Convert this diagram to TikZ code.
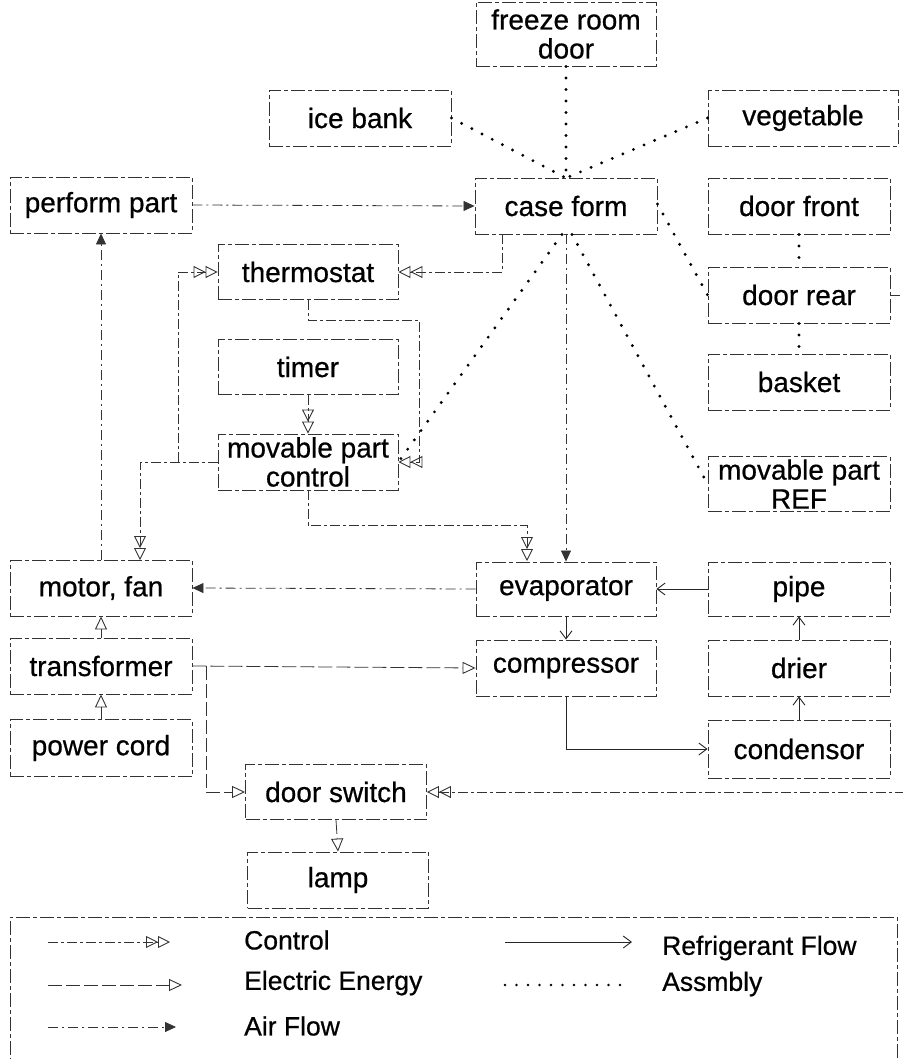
\documentclass[tikz,border=0pt]{standalone}
\usepackage{fontspec}
\setmainfont{Liberation Sans}[FakeBold=0.6]
\usetikzlibrary{arrows.meta}
\begin{document}
\begin{tikzpicture}[x=1pt,y=-1pt,
  box/.style={draw=black!80, line width=0.9pt, dash pattern=on 14pt off 3pt on 4pt off 3pt,
    minimum width=182pt, minimum height=56pt, inner sep=0pt, align=center,
    font=\fontsize{28}{29}\selectfont},
  lgtext/.style={anchor=west, inner sep=0pt, font=\fontsize{26.5}{28}\selectfont},
  ctrl/.style={draw=black!80, line width=0.8pt, dash pattern=on 10pt off 3pt on 3pt off 3pt,
    -{Triangle[open,length=12pt,width=12pt,line width=0.9pt]Triangle[open,length=12pt,width=12pt,line width=0.9pt]}},
  elec/.style={draw=black!80, line width=0.8pt, dash pattern=on 14pt off 4pt,
    -{Triangle[open,length=13pt,width=12pt,line width=0.9pt]}},
  air/.style={draw=black!80, line width=0.8pt, dash pattern=on 10pt off 4pt on 2pt off 4pt,
    -{Triangle[length=11pt,width=10pt]}},
  refr/.style={draw=black!85, line width=0.8pt,
    -{Straight Barb[length=8pt,width=12pt,line width=0.9pt]}},
  asm/.style={draw=black, line width=3.2pt, dash pattern=on 0pt off 11.5pt, line cap=round}
]
\useasboundingbox (0,0) rectangle (902,1059);

% nodes
\node[box, minimum width=180pt, minimum height=64pt] (freeze) at (566,34) {freeze room\\door};
\node[box] (ice) at (360,118) {ice bank};
\node[box, minimum width=190pt] (veg) at (803,118) {vegetable};
\node[box] (perform) at (101,205) {perform part};
\node[box] (case) at (566,206) {case form};
\node[box] (dfront) at (799,206) {door front};
\node[box, minimum width=180pt, minimum height=55pt] (thermo) at (308,272) {thermostat};
\node[box] (drear) at (799,295) {door rear};
\node[box, minimum width=180pt, minimum height=55pt] (timer) at (308,367) {timer};
\node[box] (basket) at (799,382) {basket};
\node[box, minimum width=180pt] (mpc) at (308,462) {movable part\\control};
\node[box, minimum height=55pt] (mpref) at (799,484) {movable part\\REF};
\node[box] (motor) at (101,588) {motor, fan};
\node[box, minimum width=180pt, minimum height=54pt] (evap) at (566,589) {evaporator};
\node[box, minimum height=54pt] (pipe) at (799,589) {pipe};
\node[box] (trans) at (101,666) {transformer};
\node[box, minimum width=180pt] (comp) at (566,668) {compressor};
\node[box] (drier) at (799,668) {drier};
\node[box, minimum height=57pt] (cord) at (101,748) {power cord};
\node[box, minimum height=58pt] (cond) at (799,749) {condensor};
\node[box, minimum width=181pt, minimum height=55pt] (dswitch) at (336,792) {door switch};
\node[box, minimum width=181pt] (lamp) at (338,880) {lamp};
\node[box, minimum width=887pt, minimum height=142pt] (legend) at (453.5,988) {};

% assembly (dotted)
\coordinate (caseTop) at (566,178);
\draw[asm] (freeze.south) -- (case.north);
\draw[asm] (ice.east) -- (caseTop);
\draw[asm] (veg.west) -- (caseTop);
\draw[asm] ([yshift=2pt]case.east) -- (drear.west);
\draw[asm] (dfront.south) -- (drear.north);
\draw[asm] (drear.south) -- (basket.north);
\draw[asm] ([xshift=-4pt]case.south) -- (mpc.east);
\draw[asm] ([xshift=6pt]case.south) -- (mpref.west);

% air flow
\draw[air] (perform.east) -- (case.west);
\draw[air] (case.south) -- (evap.north);
\draw[air] (evap.west) -- (motor.east);
\draw[air] (motor.north) -- (perform.south);

% refrigerant
\draw[refr] (pipe.west) -- (evap.east);
\draw[refr] (evap.south) -- (comp.north);
\draw[refr] (comp.south) |- (cond.west);
\draw[refr] (cond.north) -- (drier.south);
\draw[refr] (drier.north) -- (pipe.south);

% electric energy
\draw[elec] (cord.north) -- (trans.south);
\draw[elec] (trans.north) -- (motor.south);
\draw[elec] (trans.east) -- (comp.west);
\coordinate (tbranch) at (206,666);
\draw[elec] (tbranch) |- (dswitch.west);
\draw[elec] (dswitch.south) -- (lamp.north);

% control
\coordinate (c1) at (502,234);
\coordinate (c2) at (502,272);
\draw[ctrl] (c1) -- (c2) -- (thermo.east);
\coordinate (t1) at (308,320);
\coordinate (t2) at (419,320);
\coordinate (t3) at (419,462);
\draw[ctrl] (thermo.south) -- (t1) -- (t2) -- (t3) -- (mpc.east);
\draw[ctrl] (timer.south) -- (mpc.north);
\coordinate (m1) at (308,525);
\coordinate (m2) at (527,525);
\coordinate (m3) at (527,561);
\draw[ctrl] (mpc.south) -- (m1) -- (m2) -- (m3);
\coordinate (l1) at (140,462);
\coordinate (l2) at (140,560);
\draw[ctrl] (mpc.west) -- (l1) -- (l2);
\coordinate (j1) at (178,462);
\coordinate (j2) at (178,272);
\draw[ctrl] (j1) -- (j2) -- (thermo.west);
\coordinate (r1) at (915,295);
\coordinate (r2) at (915,792);
\draw[ctrl] (drear.east) -- (r1) -- (r2) -- (dswitch.east);

% legend
\coordinate (a1) at (48,942); \coordinate (a2) at (170,942);
\draw[ctrl] (a1) -- (a2);
\node[lgtext] (lc) at (244,940) {Control};
\coordinate (b1) at (48,985); \coordinate (b2) at (182,985);
\draw[elec] (b1) -- (b2);
\node[lgtext] (le) at (244,983) {Electric Energy};
\coordinate (e1) at (48,1027); \coordinate (e2) at (176,1027);
\draw[air] (e1) -- (e2);
\node[lgtext] (la) at (244,1026) {Air Flow};
\coordinate (f1) at (505,942); \coordinate (f2) at (632,942);
\draw[refr] (f1) -- (f2);
\node[lgtext] (lr) at (662,948) {Refrigerant Flow};
\coordinate (g1) at (505,985); \coordinate (g2) at (628,985);
\draw[asm, line width=2.6pt] (g1) -- (g2);
\node[lgtext] (ls) at (662,984) {Assmbly};
\end{tikzpicture}
\end{document}
